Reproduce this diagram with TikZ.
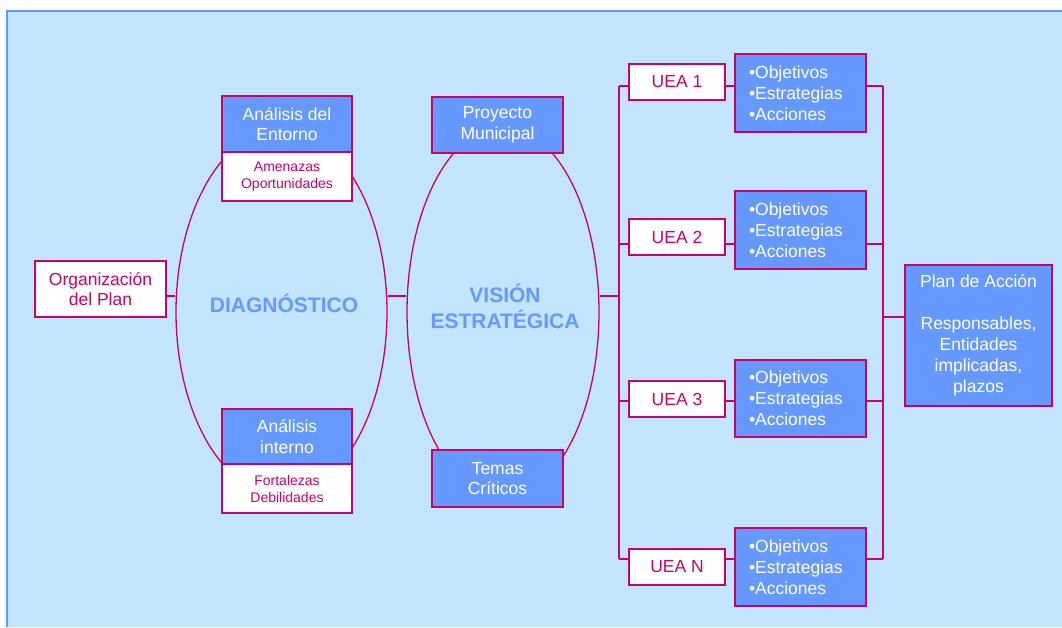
\documentclass[tikz,border=0pt]{standalone}
\usepackage{fontspec}
\setmainfont{Liberation Sans}
\usetikzlibrary{shapes.geometric}
\definecolor{bg}{HTML}{C2E4FC}
\definecolor{bbox}{HTML}{6699FF}
\definecolor{mag}{HTML}{CC0066}
\begin{document}
\begin{tikzpicture}[x=1pt,y=-1pt,
  conn/.style={draw=mag, line width=1.3pt},
  boxbase/.style={draw=mag, line width=1.7pt, inner sep=0pt, align=center},
  bluebox/.style={boxbase, fill=bbox, text=white, font=\fontsize{17.5}{20.5}\selectfont},
  whitebox/.style={boxbase, fill=white, text=mag, font=\fontsize{17.5}{20.5}\selectfont},
  smallbox/.style={boxbase, fill=white, text=mag, font=\fontsize{14}{17}\selectfont},
  listbox/.style={draw=mag, line width=1.7pt, fill=bbox, text=white, align=left,
    text width=103pt, inner xsep=14pt, inner ysep=0pt, minimum width=131pt, minimum height=78pt,
    font=\fontsize{17.5}{21}\selectfont},
  ueabox/.style={whitebox, minimum width=96pt, minimum height=36pt},
  oval/.style={ellipse, draw=mag, line width=1.3pt, inner sep=0pt},
  title/.style={text=bbox, font=\fontsize{21}{26}\selectfont\bfseries, align=center}
]
\useasboundingbox (0,0) rectangle (1062,627);
\fill[bg] (7,11) rectangle (1062,627);
\draw[bbox, line width=1.5pt] (7,627) -- (7,11) -- (1062,11);

% ellipses
\node[oval, minimum width=211pt, minimum height=366pt] (diag) at (281.5,312) {};
\node[oval, minimum width=192pt, minimum height=370pt] (vis) at (503,312) {};
\node[title] (diagt) at (284,303) {DIAGNÓSTICO};
\node[title] (vist) at (505,306) {VISIÓN\\ESTRATÉGICA};

% left column
\node[whitebox, minimum width=131pt, minimum height=56pt] (org) at (100.5,289) {Organización\\del Plan};
\node[bluebox, minimum width=130pt, minimum height=56pt] (ae) at (287,124) {Análisis del\\Entorno};
\node[smallbox, minimum width=130pt, minimum height=49pt] (ao) at (287,176.5) {Amenazas\\Oportunidades};
\node[bluebox, minimum width=130pt, minimum height=55pt] (ai) at (287,436.5) {Análisis\\interno};
\node[smallbox, minimum width=130pt, minimum height=49pt] (fd) at (287,488.5) {Fortalezas\\Debilidades};
\node[bluebox, minimum width=131pt, minimum height=56pt] (pm) at (497.5,125) {Proyecto\\Municipal};
\node[bluebox, minimum width=131pt, minimum height=57pt] (tc) at (497.5,478.5) {Temas\\Críticos};

% UEA
\node[ueabox] (u1) at (677,82) {UEA 1};
\node[ueabox] (u2) at (677,237) {UEA 2};
\node[ueabox] (u3) at (677,399) {UEA 3};
\node[ueabox] (u4) at (677,567) {UEA N};

\node[listbox] (o1) at (800.5,93) {•Objetivos\\•Estrategias\\•Acciones};
\node[listbox] (o2) at (800.5,230) {•Objetivos\\•Estrategias\\•Acciones};
\node[listbox, minimum height=77pt] (o3) at (800.5,398.5) {•Objetivos\\•Estrategias\\•Acciones};
\node[listbox] (o4) at (800.5,567) {•Objetivos\\•Estrategias\\•Acciones};

\node[bluebox, minimum width=147pt, minimum height=141pt, font=\fontsize{17.5}{21}\selectfont] (plan) at (978.5,335.5)
  {Plan de Acción\\[21pt]Responsables,\\Entidades\\implicadas,\\plazos};

% connectors
\coordinate (m) at (619,296);
\coordinate (b1) at (619,86);
\coordinate (b2) at (619,244);
\coordinate (b3) at (619,401);
\coordinate (b4) at (619,559);
\coordinate (c1) at (883,86);
\coordinate (c2) at (883,244);
\coordinate (c3) at (883,401);
\coordinate (c4) at (883,559);
\coordinate (cp) at (883,317);

\draw[conn] (org.east |- m) -- (diag.west |- m);
\draw[conn] (diag.east |- m) -- (vis.west |- m);
\draw[conn] (vis.east |- m) -- (m);
\draw[conn] (b1) -- (b4);
\draw[conn] (c1) -- (c4);
\foreach \i in {1,2,3,4}{
  \draw[conn] (b\i) -- (u\i.west |- b\i);
  \draw[conn] (u\i.east |- b\i) -- (o\i.west |- b\i);
  \draw[conn] (o\i.east |- c\i) -- (c\i);
}
\draw[conn] (cp) -- (plan.west |- cp);
\end{tikzpicture}
\end{document}
